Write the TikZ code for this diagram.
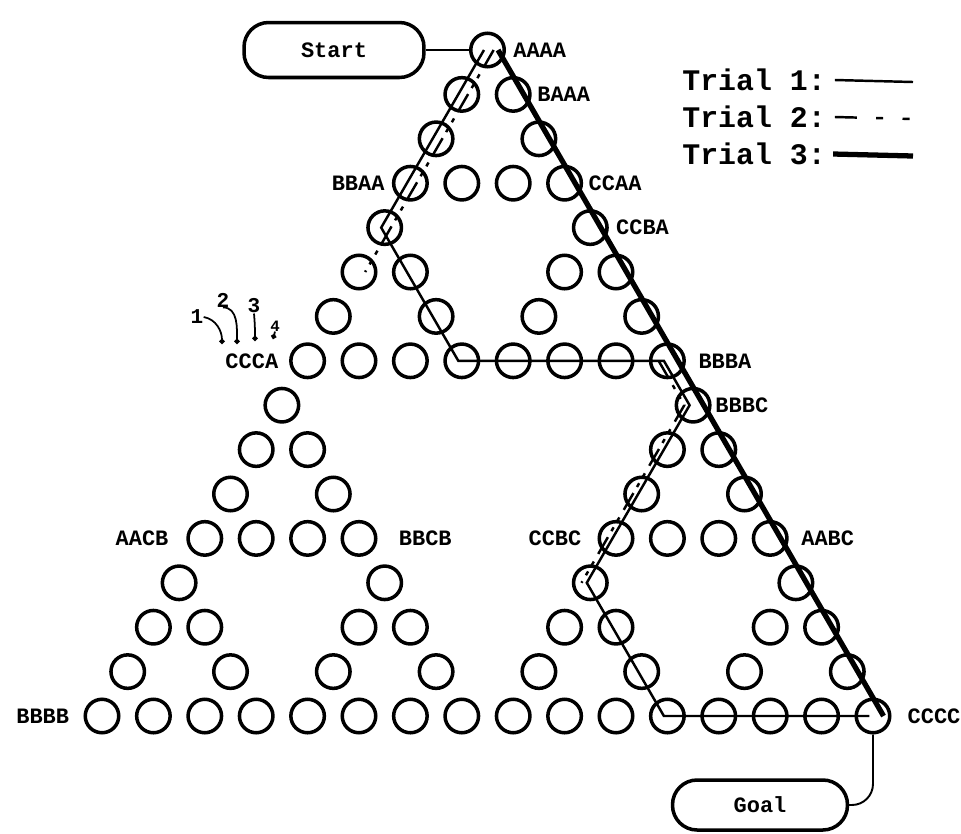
\documentclass[tikz,border=0pt]{standalone}
\usepackage{fontspec}
\setmonofont{Liberation Mono}
\usetikzlibrary{positioning,arrows.meta}

\tikzset{
  state/.style={circle,draw,line width=2pt,minimum size=0.67cm,inner sep=0pt},
  lbl/.style={font=\fontsize{12.5}{14}\selectfont\ttfamily\bfseries,inner sep=0pt},
  legend/.style={font=\fontsize{17}{20}\selectfont\ttfamily\bfseries,inner sep=0pt},
  endbox/.style={draw,line width=2pt,rounded corners=14pt,minimum width=3.6cm,
    minimum height=1.1cm,font=\fontsize{12.5}{14}\selectfont\ttfamily\bfseries},
  link/.style={line width=1.1pt},
  trialone/.style={line width=1.4pt},
  trialtwo/.style={line width=1.4pt,dash pattern=on 11pt off 5pt on 2.5pt off 4pt on 2.5pt off 4pt},
  trialthree/.style={line width=3pt},
  hook/.style={line width=1pt,-{Circle[length=3pt]}},
}

\begin{document}
\begin{tikzpicture}[x=0.02cm,y=-0.02cm]
  \useasboundingbox (0,0) rectangle (961,833);

  % states of the puzzle, row by row
  \foreach \r/\ks in {0/{0},1/{0,1},2/{0,2},3/{0,1,2,3},4/{0,4},5/{0,1,4,5},
      6/{0,2,4,6},7/{0,1,2,3,4,5,6,7},8/{0,8},9/{0,1,8,9},10/{0,2,8,10},
      11/{0,1,2,3,8,9,10,11},12/{0,4,8,12},13/{0,1,4,5,8,9,12,13},
      14/{0,2,4,6,8,10,12,14},15/{0,1,2,3,4,5,6,7,8,9,10,11,12,13,14,15}}
    \foreach \k in \ks
      \node[state] (s\r-\k) at ({487.5+(2*\k-\r)*25.7},{50+\r*44.4}) {};

  % state labels
  \node[lbl,right=4pt of s0-0]   (lAAAA) {AAAA};
  \node[lbl,right=3pt of s1-1]   (lBAAA) {BAAA};
  \node[lbl,left=4pt of s3-0]    (lBBAA) {BBAA};
  \node[lbl,right=3pt of s3-3]   (lCCAA) {CCAA};
  \node[lbl,right=4pt of s4-4]   (lCCBA) {CCBA};
  \node[lbl,left=6pt of s7-0]    (lCCCA) {CCCA};
  \node[lbl,right=7pt of s7-7]   (lBBBA) {BBBA};
  \node[lbl,right=2pt of s8-8]   (lBBBC) {BBBC};
  \node[lbl,left=10pt of s11-0]  (lAACB) {AACB};
  \node[lbl,right=12pt of s11-3] (lBBCB) {BBCB};
  \node[lbl,left=9pt of s11-8]   (lCCBC) {CCBC};
  \node[lbl,right=7pt of s11-11] (lAABC) {AABC};
  \node[lbl,left=8pt of s15-0]   (lBBBB) {BBBB};
  \node[lbl,right=9pt of s15-15] (lCCCC) {CCCC};

  % disk numbers over CCCA
  \node[lbl,font=\fontsize{12}{14}\selectfont\ttfamily\bfseries] (d1) at (197,317) {1};
  \node[lbl,font=\fontsize{12}{14}\selectfont\ttfamily\bfseries] (d2) at (223,300) {2};
  \node[lbl,font=\fontsize{12}{14}\selectfont\ttfamily\bfseries] (d3) at (254,306) {3};
  \node[lbl,font=\fontsize{9}{10}\selectfont\ttfamily\bfseries]  (d4) at (275,326) {4};
  \coordinate (h1) at (222,344);
  \coordinate (h2) at (237,344);
  \coordinate (h3) at (255,341);
  \coordinate (h4) at (273,339);
  \draw[hook] (d1.east) to[out=-10,in=90] (h1);
  \draw[hook] (d2.south) to[out=0,in=90] (h2);
  \draw[hook] (d3.south) to[out=-85,in=90] (h3);
  \draw[hook] (d4.south) -- (h4);

  % start and goal
  \node[endbox] (start) at (334,50) {Start};
  \node[endbox,minimum width=3.5cm,minimum height=1cm] (goal) at (760,805) {Goal};
  \draw[link] (start) -- (s0-0);
  \draw[link,rounded corners=12pt] (s15-15.south) |- (goal.east);

  % the three trials
  \draw[trialone,transform canvas={xshift=-2pt}]
    (s0-0.center) -- (s4-0.center) -- (s7-3.center) -- (s7-7.center)
    -- (s8-8.center) -- (s12-8.center) -- (s15-11.center) -- (s15-15.center);
  \draw[trialtwo,transform canvas={xshift=3.5pt}]
    (s0-0.center) -- (s4-0.center) -- (s5-0.center);
  \draw[trialtwo,transform canvas={xshift=-5pt}]
    (s7-7.center) -- (s8-8.center) -- (s12-8.center);
  \draw[trialthree,transform canvas={xshift=6pt}] (s0-0.center) -- (s15-15.center);

  % legend
  \node[legend,anchor=west] (t1) at (682,80)  {Trial 1:};
  \node[legend,anchor=west] (t2) at (682,117) {Trial 2:};
  \node[legend,anchor=west] (t3) at (682,154) {Trial 3:};
  \coordinate (te1) at (913,82);
  \coordinate (te2) at (913,119);
  \coordinate (te3) at (913,156);
  \draw[trialone] ([xshift=5pt]t1.east) -- (te1);
  \draw[trialtwo,dash pattern=on 12.5pt off 11pt on 4pt off 11pt on 4pt off 11pt]
    ([xshift=5pt]t2.east) -- (te2);
  \draw[trialthree] ([xshift=4pt]t3.east) -- (te3);
\end{tikzpicture}
\end{document}
